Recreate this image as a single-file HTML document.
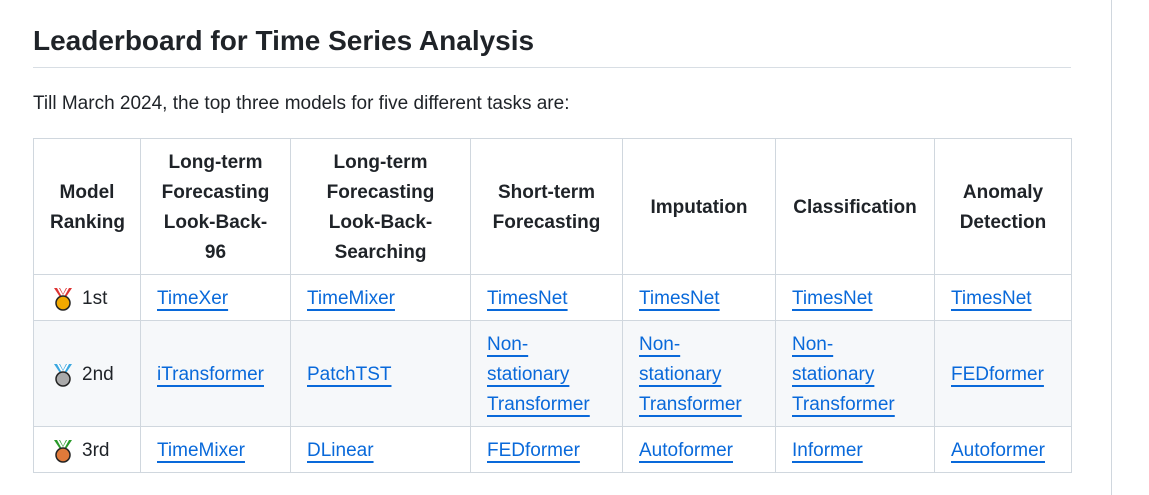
<!DOCTYPE html>
<html><head><meta charset="utf-8"><style>
body{margin:0;width:1149px;height:495px;background:#fff;font-family:"Liberation Sans",sans-serif;color:#1f2328;position:relative;overflow:hidden}
.vline{position:absolute;left:1111px;top:0;width:1px;height:495px;background:#d0d7de}
h2{position:absolute;left:33px;top:22px;margin:0;font-size:28px;font-weight:bold;line-height:38px}
.hr{position:absolute;left:33px;top:67px;width:1038px;height:1px;background:#d8dee4}
p{position:absolute;left:33px;top:91px;margin:0;font-size:19px;line-height:26px}
table{position:absolute;left:33px;top:138px;border-collapse:collapse;table-layout:fixed;width:1038px;font-size:19px;line-height:30px}
td,th{border:1px solid #d0d7de;padding:2px 16px 0 16px;vertical-align:middle}
th{font-weight:bold;text-align:center;height:133px}
td{text-align:left}
tr.r1 td{height:43px}tr.r2 td{height:103px;background:#f6f8fa}tr.r3 td{height:43px}
a{color:#0969da;text-decoration:underline;text-decoration-thickness:2px;text-underline-offset:5px}
.rank{display:flex;align-items:center;gap:8px;padding-left:2px}
</style></head><body>
<div class="vline"></div>
<h2>Leaderboard for Time Series Analysis</h2>
<div class="hr"></div>
<p>Till March 2024, the top three models for five different tasks are:</p>
<table>
<colgroup><col style="width:107px"><col style="width:150px"><col style="width:180px"><col style="width:152px"><col style="width:153px"><col style="width:159px"><col style="width:137px"></colgroup>
<tr>
<th>Model Ranking</th>
<th>Long-term Forecasting Look-Back-96</th>
<th>Long-term Forecasting Look-Back-Searching</th>
<th>Short-term Forecasting</th>
<th>Imputation</th>
<th>Classification</th>
<th>Anomaly Detection</th>
</tr>
<tr class="r1">
<td><span class="rank"><svg width="22" height="24" viewBox="0 0 22 24"><path d="M2 1h6l3 6 3-6h6l-6 9H8z" fill="#d33"/><path d="M5 1h2l4 7 4-7h2l-5 9h-2z" fill="#fff"/><circle cx="11" cy="16" r="7" fill="#f2a900" stroke="#222" stroke-width="1.5"/></svg>1st</span></td>
<td><a href="#">TimeXer</a></td>
<td><a href="#">TimeMixer</a></td>
<td><a href="#">TimesNet</a></td>
<td><a href="#">TimesNet</a></td>
<td><a href="#">TimesNet</a></td>
<td><a href="#">TimesNet</a></td>
</tr>
<tr class="r2">
<td><span class="rank"><svg width="22" height="24" viewBox="0 0 22 24"><path d="M2 1h6l3 6 3-6h6l-6 9H8z" fill="#3aa7e0"/><path d="M5 1h2l4 7 4-7h2l-5 9h-2z" fill="#fff"/><circle cx="11" cy="16" r="7" fill="#aaa" stroke="#222" stroke-width="1.5"/></svg>2nd</span></td>
<td><a href="#">iTransformer</a></td>
<td><a href="#">PatchTST</a></td>
<td><a href="#">Non-<br>stationary<br>Transformer</a></td>
<td><a href="#">Non-<br>stationary<br>Transformer</a></td>
<td><a href="#">Non-<br>stationary<br>Transformer</a></td>
<td><a href="#">FEDformer</a></td>
</tr>
<tr class="r3">
<td><span class="rank"><svg width="22" height="24" viewBox="0 0 22 24"><path d="M2 1h6l3 6 3-6h6l-6 9H8z" fill="#2a9a2a"/><path d="M5 1h2l4 7 4-7h2l-5 9h-2z" fill="#fff"/><circle cx="11" cy="16" r="7" fill="#e07a3a" stroke="#222" stroke-width="1.5"/></svg>3rd</span></td>
<td><a href="#">TimeMixer</a></td>
<td><a href="#">DLinear</a></td>
<td><a href="#">FEDformer</a></td>
<td><a href="#">Autoformer</a></td>
<td><a href="#">Informer</a></td>
<td><a href="#">Autoformer</a></td>
</tr>
</table>
</body></html>
